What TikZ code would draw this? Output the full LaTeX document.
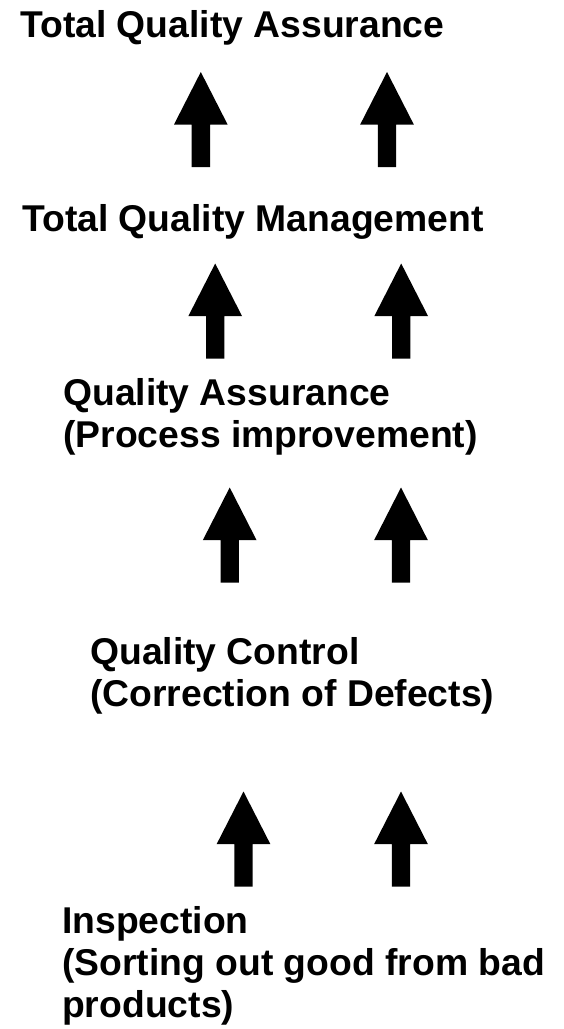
\documentclass[tikz,border=0pt]{standalone}
\usepackage{fontspec}
\setmainfont{Liberation Sans}
\begin{document}
\begin{tikzpicture}[x=1pt,y=-1pt,
  label/.style={anchor=base west,inner sep=0pt,align=left,
    font=\fontsize{37.3}{42}\selectfont\bfseries},
  pics/uparrow/.style={code={
    % block arrow: tip at (0,0), shaft reaching 95 down
    \fill[black] (0,0) -- (26.8,52.5) -- (9.2,52.5) -- (9.2,95)
      -- (-9.2,95) -- (-9.2,52.5) -- (-26.8,52.5) -- cycle;
  }}]
\useasboundingbox (0,0) rectangle (563,1029);

% levels of quality practice (anchored on the last line's baseline)
\node[label] (tqa) at (20,37) {Total Quality Assurance};
\node[label] (tqm) at (22,231) {Total Quality Management};
\node[label] (qa)  at (63,447) {Quality Assurance\\(Process improvement)};
\node[label] (qc)  at (90,706) {Quality Control\\(Correction of Defects)};
\node[label] (ins) at (62,1017) {Inspection\\(Sorting out good from bad\\products)};

% paired arrows between levels
\pic at (200.8,72)  {uparrow};
\pic at (387,72)    {uparrow};
\pic at (215.2,263.5) {uparrow};
\pic at (401.2,263.5) {uparrow};
\pic at (229.7,487.5) {uparrow};
\pic at (401,487.5)   {uparrow};
\pic at (243.5,791.5) {uparrow};
\pic at (401,791.5)   {uparrow};
\end{tikzpicture}
\end{document}
